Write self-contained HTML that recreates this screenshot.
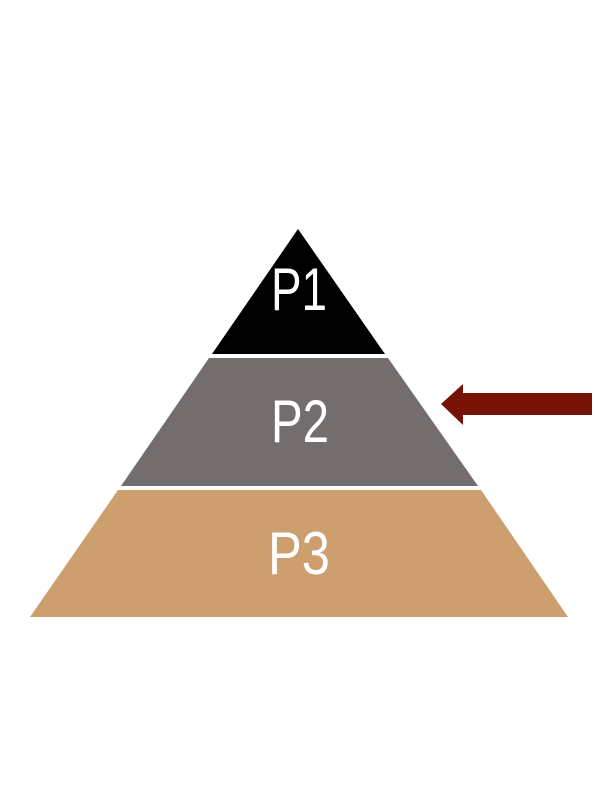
<!DOCTYPE html>
<html><head><meta charset="utf-8"><style>html,body{margin:0;padding:0;background:#fff}svg{display:block}</style></head>
<body>
<svg width="600" height="800" viewBox="0 0 600 800" xmlns="http://www.w3.org/2000/svg">
<rect width="600" height="800" fill="#fff"/>
<polygon points="298,229 385,354 212,354" fill="#000"/>
<polygon points="209,358 388,358 478,486 121,486" fill="#736e6d"/>
<polygon points="118,490 481,490 568,617 30,617" fill="#cd9f6f"/>
<polygon points="441,404 463,384 463,393 592,393 592,415 463,415 463,425" fill="#761206"/>
<g fill="#fff" font-family="Liberation Sans, sans-serif" font-size="60">
<text x="271" y="310" textLength="56" lengthAdjust="spacingAndGlyphs">P1</text>
<text x="271" y="442" textLength="58" lengthAdjust="spacingAndGlyphs">P2</text>
<text x="268" y="574" textLength="62" lengthAdjust="spacingAndGlyphs">P3</text>
</g>
</svg>
</body></html>
